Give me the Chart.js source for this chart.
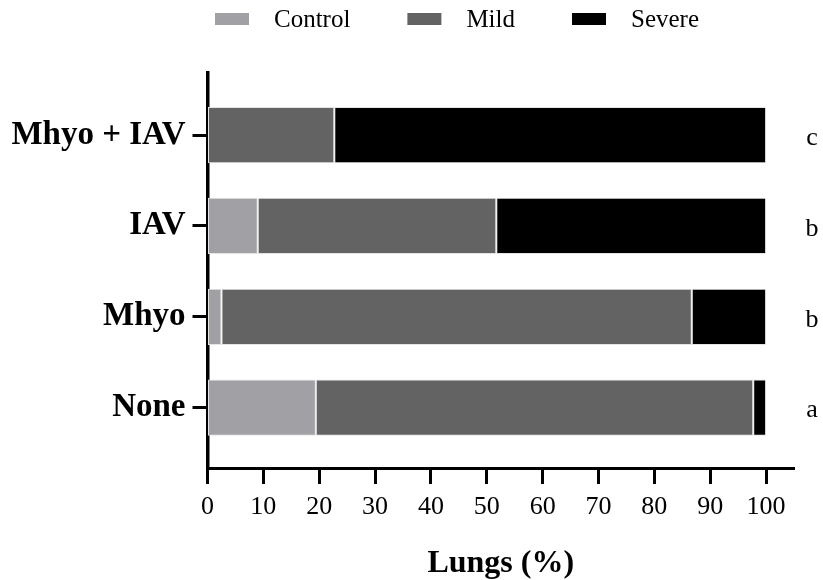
<!DOCTYPE html>
<html>
<head>
<meta charset="utf-8">
<script src="https://cdn.jsdelivr.net/npm/chart.js@4"></script>
<style>
  html, body { margin: 0; padding: 0; background: #fff; }
  #wrap { width: 823px; height: 580px; }
</style>
</head>
<body>
<div id="wrap"><canvas id="chart"></canvas></div>
<script>
// bottom to top, as drawn
const groups = ["None", "Mhyo", "IAV", "Mhyo + IAV"];
const control = [19.4, 2.5, 9.0, 0];
const mild = [78.3, 84.2, 42.7, 22.7];
const severe = [2.3, 13.3, 48.3, 77.3];
const letters = ["a", "b", "b", "c"];
const xTicks = [0, 10, 20, 30, 40, 50, 60, 70, 80, 90, 100];

const SERIF = "'Liberation Serif', 'Times New Roman', serif";

function rows(values) {
  return values.map((v, i) => ({ x: v, y: i + 1 }));
}

// letters to the right of each bar
const lettersPlugin = {
  id: "letters",
  afterDatasetsDraw(chart) {
    const { ctx, chartArea, scales } = chart;
    ctx.save();
    ctx.font = "26px " + SERIF;
    ctx.fillStyle = "#000";
    ctx.textAlign = "center";
    ctx.textBaseline = "middle";
    letters.forEach((l, i) => {
      ctx.fillText(l, chartArea.right + 18, scales.y.getPixelForValue(i + 1) + 3);
    });
    ctx.restore();
  }
};

// legend drawn by hand, the built-in one can't get the spacing right
const legendPlugin = {
  id: "topLegend",
  afterDraw(chart) {
    const { ctx } = chart;
    ctx.save();
    ctx.font = "25px " + SERIF;
    ctx.textBaseline = "middle";
    let x = 215;
    chart.data.datasets.forEach(ds => {
      ctx.fillStyle = ds.backgroundColor;
      ctx.fillRect(x, 13, 34, 12);
      ctx.fillStyle = "#000";
      ctx.fillText(ds.label, x + 59, 20);
      x += 59 + ctx.measureText(ds.label).width + 57;
    });
    ctx.restore();
  }
};

const barStyle = {
  borderColor: "#e4e4e4",
  borderWidth: 1,
  borderSkipped: false,
  barPercentage: 1,
  categoryPercentage: 0.62
};

new Chart(document.getElementById("chart"), {
  type: "bar",
  data: {
    datasets: [
      { label: "Control", data: rows(control), backgroundColor: "#a1a0a5", ...barStyle },
      { label: "Mild", data: rows(mild), backgroundColor: "#636363", ...barStyle },
      { label: "Severe", data: rows(severe), backgroundColor: "#000000", ...barStyle }
    ]
  },
  options: {
    indexAxis: "y",
    responsive: true,
    maintainAspectRatio: false,
    animation: false,
    layout: { padding: { top: 73, right: 29, bottom: 0, left: 6 } },
    plugins: {
      legend: { display: false },
      tooltip: { enabled: false }
    },
    scales: {
      x: {
        type: "linear",
        stacked: true,
        min: 0,
        max: 105,
        afterBuildTicks: (s) => { s.ticks = xTicks.map(v => ({ value: v })); },
        afterFit: (s) => { s.height = 112; },
        ticks: {
          color: "#000",
          padding: 8,
          font: { family: SERIF, size: 26 }
        },
        grid: {
          drawOnChartArea: false,
          drawTicks: true,
          tickLength: 16,
          tickWidth: 3,
          tickColor: "#000"
        },
        border: { display: true, color: "#000", width: 3 },
        title: {
          display: true,
          text: "Lungs (%)",
          color: "#000",
          font: { family: SERIF, size: 32, weight: "bold", lineHeight: 1 },
          padding: { top: 0, bottom: 0 }
        }
      },
      y: {
        type: "linear",
        stacked: true,
        offset: false,
        min: 0.336,
        max: 4.683,
        afterBuildTicks: (s) => { s.ticks = groups.map((g, i) => ({ value: i + 1 })); },
        afterFit: (s) => { s.width = 201.5; },
        ticks: {
          color: "#000",
          padding: 7,
          font: { family: SERIF, size: 33, weight: "bold" },
          callback: (value) => groups[value - 1]
        },
        grid: {
          offset: false,
          drawOnChartArea: false,
          drawTicks: true,
          tickLength: 15,
          tickWidth: 3,
          tickColor: "#000"
        },
        border: { display: true, color: "#000", width: 3.5 }
      }
    }
  },
  plugins: [lettersPlugin, legendPlugin]
});
</script>
</body>
</html>
